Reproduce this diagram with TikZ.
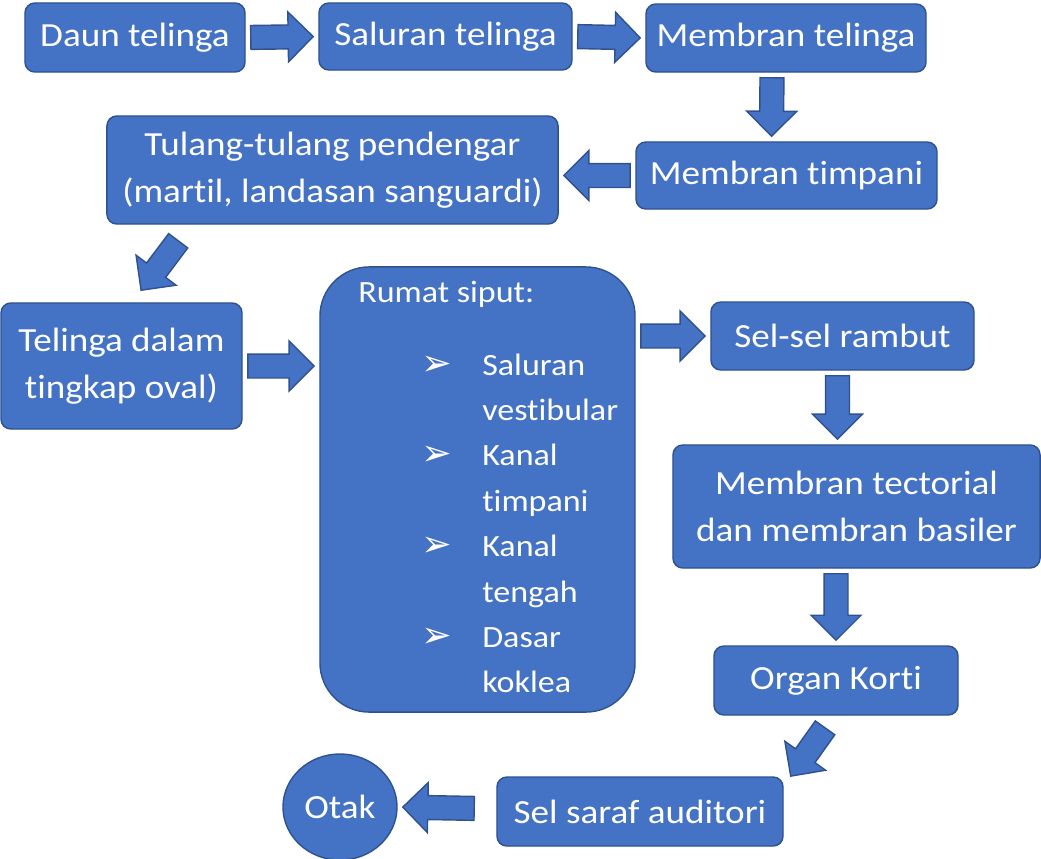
\documentclass[tikz,border=0pt]{standalone}
\usepackage{fontspec}
\setmainfont{Carlito}[FakeStretch=1.1, Ligatures=NoCommon, RawFeature=-liga]
\newfontfamily\simbol{DejaVu Sans}
\usetikzlibrary{calc,shapes.geometric}

\definecolor{biru}{HTML}{4472C4}
\definecolor{garis}{HTML}{2F528F}

\tikzset{
  kotak/.style={draw=garis, fill=biru, line width=1pt, rounded corners=7pt, text=white,
    align=center, inner sep=0pt, font=\fontsize{24}{33.4}\selectfont},
  isi/.style={text=white, inner sep=0pt, font=\fontsize{22}{32.3}\selectfont},
  blok/.style={draw=garis, fill=biru, line width=1pt, line join=miter,
    to path={let \p1=(\tikztostart), \p2=(\tikztotarget),
      \n1={atan2(\y2-\y1,\x2-\x1)}, \n2={veclen(\x2-\x1,\y2-\y1)} in
      {[shift={(\p1)}, rotate=\n1]
        (3.6pt,-8.5pt) -- ({\n2*1pt-21.4pt},-8.5pt) -- ({\n2*1pt-21.4pt},-17.8pt)
        -- ({\n2*1pt-3.6pt},0pt) -- ({\n2*1pt-21.4pt},17.8pt) -- ({\n2*1pt-21.4pt},8.5pt)
        -- (3.6pt,8.5pt) -- cycle}}}
}
\newcommand{\butir}{{\simbol\fontsize{26}{26}\selectfont ➢}}

\begin{document}
\begin{tikzpicture}[x=0.025cm, y=-0.025cm]
  \useasboundingbox (0,0) rectangle (1041,858);

  \node[kotak, minimum width=5.5cm, minimum height=1.725cm] (daun) at (135,37.5) {Daun telinga};
  \node[kotak, minimum width=6.325cm, minimum height=1.675cm] (saluran) at (445.5,36.5) {Saluran telinga};
  \node[kotak, minimum width=7cm, minimum height=1.7cm] (mtel) at (786,38) {Membran telinga};
  \node[kotak, minimum width=7.525cm, minimum height=1.675cm] (timpani) at (786.5,175.5) {Membran timpani};
  \node[kotak, minimum width=11.275cm, minimum height=2.7cm] (tulang) at (332.5,170)
    {Tulang-tulang pendengar\\(martil, landasan sanguardi)};
  \node[kotak, minimum width=6.025cm, minimum height=3.15cm] (dalam) at (121.5,366)
    {Telinga dalam\\tingkap oval)};

  % rumah siput dengan daftar
  \node[kotak, rounded corners=35pt, minimum width=7.875cm, minimum height=11.125cm] (rumah) at (477.5,489.5) {};
  \node[isi, anchor=base west] (judul) at (358,302) {Rumat siput:};
  \node[isi, anchor=base west] (daftar) at (421,375) {\begin{tabular}[t]{@{}p{43.4pt}@{}l@{}}
      \butir & Saluran\\
      & vestibular\\
      \butir & Kanal\\
      & timpani\\
      \butir & Kanal\\
      & tengah\\
      \butir & Dasar\\
      & koklea
    \end{tabular}};

  \node[kotak, minimum width=6.575cm, minimum height=1.7cm] (rambut) at (842.5,336) {Sel-sel rambut};
  \node[kotak, minimum width=9.175cm, minimum height=3.075cm] (tectorial) at (856.5,506.5)
    {Membran tectorial\\dan membran basiler};
  \node[kotak, minimum width=6.1cm, minimum height=1.725cm] (korti) at (836,680.5) {Organ Korti};
  \node[kotak, minimum width=7.15cm, minimum height=1.725cm] (saraf) at (640,811.5) {Sel saraf auditori};
  \node[kotak, ellipse, sharp corners, minimum width=2.85cm, minimum height=2.65cm] (otak) at (340,807) {Otak};

  \draw[blok] (daun.east) to (saluran.west);
  \draw[blok] (saluran.east) to (mtel.west);
  \draw[blok] ($(mtel.south)+(-14,0)$) to ($(timpani.north)+(-15,0)$);
  \draw[blok] (timpani.west) to (timpani.west -| tulang.east);
  \draw[blok] ($(tulang.south west)+(75,12)$) to ($(dalam.north)+(16.5,-8)$);
  \draw[blok] (dalam.east) to (dalam.east -| rumah.west);
  \draw[blok] (rambut.west -| rumah.east) to (rambut.west);
  \draw[blok] ($(rambut.south)+(-5,0)$) to ($(rambut.south |- tectorial.north)+(-5,0)$);
  \draw[blok] (korti.north |- tectorial.south) to (korti.north);
  \draw[blok] ($(korti.south)+(-8,8)$) to ($(saraf.north east)+(4,4)$);
  \draw[blok] ($(saraf.west)+(-17,-3)$) to (otak.east);

\end{tikzpicture}
\end{document}
